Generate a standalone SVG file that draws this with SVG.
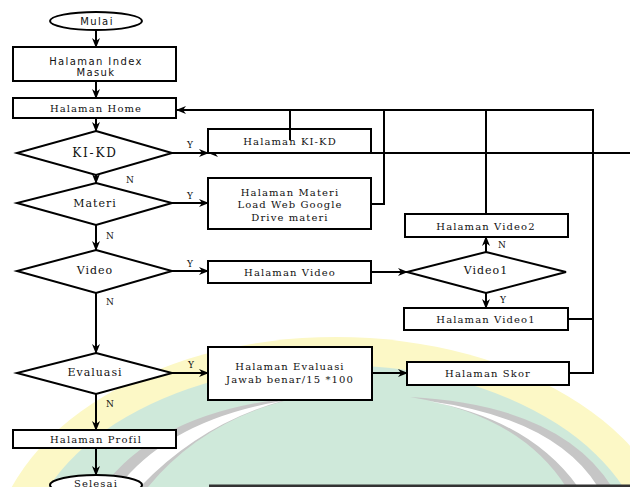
<svg xmlns="http://www.w3.org/2000/svg" width="630" height="487" viewBox="0 0 630 487">
<style>
.box{fill:#fff;stroke:#000;stroke-width:2}
.t{font-family:"DejaVu Serif",serif;font-size:10px;letter-spacing:1.1px;text-anchor:middle;dominant-baseline:central;fill:#111}
.d{font-family:"DejaVu Serif",serif;font-size:11px;letter-spacing:1px;text-anchor:middle;dominant-baseline:central;fill:#111}
.s{font-family:"DejaVu Sans",sans-serif;font-size:10px;letter-spacing:1.4px;text-anchor:middle;dominant-baseline:central;fill:#111}
.l{font-family:"DejaVu Serif",serif;font-size:9px;text-anchor:middle;dominant-baseline:central;fill:#111}
.c{fill:none;stroke:#000;stroke-width:2}
.a{fill:none;stroke:#000;stroke-width:2;marker-end:url(#ah)}
</style>
<defs>
<marker id="ah" markerWidth="10" markerHeight="10" refX="9" refY="5" orient="auto" markerUnits="userSpaceOnUse">
<path d="M0,1 L10,5 L0,9 L3,5 Z" fill="#000"/>
</marker>
</defs>
<rect width="630" height="487" fill="#fff"/>
<g id="watermark">
<ellipse cx="336" cy="565" rx="345" ry="228" fill="#fcf8c6"/>
<ellipse cx="336" cy="565" rx="312" ry="200" fill="#cfe9da"/>
<path d="M103 487 Q160 410 300 397 Q205 418 148 487 Z" fill="#c6c6c6"/>
<path d="M118 487 Q170 420 282 401 Q200 424 140 487 Z" fill="#fff"/>
<path d="M410 397 Q560 405 612 487 L566 487 Q520 415 410 397 Z" fill="#c6c6c6"/>
<path d="M428 401 Q555 418 598 487 L578 487 Q530 420 428 401 Z" fill="#fff"/>
<line x1="209" y1="486" x2="630" y2="486" stroke="#333" stroke-width="3"/>
</g>
<g id="connectors">
<line class="a" x1="96" y1="30" x2="96" y2="47"/>
<line class="a" x1="96" y1="81" x2="96" y2="98"/>
<line class="a" x1="96" y1="118" x2="96" y2="131"/>
<line class="a" x1="96" y1="175" x2="96" y2="183"/>
<line class="a" x1="96" y1="225" x2="96" y2="250"/>
<line class="a" x1="96" y1="293" x2="96" y2="353"/>
<line class="a" x1="96" y1="394" x2="96" y2="430"/>
<line class="a" x1="96" y1="448" x2="96" y2="475"/>
<line class="a" x1="172" y1="153" x2="208" y2="153"/>
<line class="a" x1="630" y1="153" x2="209" y2="153"/>
<line class="a" x1="172" y1="203" x2="208" y2="203"/>
<line class="a" x1="172" y1="271" x2="208" y2="271"/>
<line class="a" x1="172" y1="373" x2="208" y2="373"/>
<line class="a" x1="371" y1="272" x2="407" y2="272"/>
<line class="a" x1="486" y1="252" x2="486" y2="237"/>
<line class="a" x1="486" y1="293" x2="486" y2="308"/>
<line class="a" x1="372" y1="373" x2="407" y2="373"/>
<line class="a" x1="593" y1="110" x2="177" y2="110"/>
<polyline class="c" points="371,204 384,204 384,110"/>
<line class="c" x1="486" y1="110" x2="486" y2="214"/>
<polyline class="c" points="569,373 593,373 593,109"/>
<line class="c" x1="568" y1="319" x2="593" y2="319"/>
<text class="l" x="130" y="180">N</text>
<text class="l" x="110" y="236">N</text>
<text class="l" x="110" y="302">N</text>
<text class="l" x="110" y="404">N</text>
<text class="l" x="190" y="145">Y</text>
<text class="l" x="190" y="196">Y</text>
<text class="l" x="190" y="264">Y</text>
<text class="l" x="191" y="365">Y</text>
<text class="l" x="502" y="245">N</text>
<text class="l" x="503" y="300">Y</text>
</g>
<g id="mulai">
<ellipse class="box" cx="96" cy="21" rx="46" ry="9"/>
<text class="s" x="97" y="21">Mulai</text>
</g>
<g id="index">
<rect class="box" x="13" y="47" width="163" height="34"/>
<text class="s" x="96" y="61">Halaman Index</text>
<text class="s" x="96" y="72">Masuk</text>
</g>
<g id="home">
<rect class="box" x="13" y="98" width="163" height="20"/>
<text class="t" x="96" y="108">Halaman Home</text>
</g>
<g id="kikd">
<polygon class="box" points="96,131 172,153 96,175 17,153"/>
<text class="d" x="95" y="153" style="font-size:12px;letter-spacing:1.8px">KI-KD</text>
</g>
<g id="hal-kikd">
<rect class="box" x="208" y="129" width="163" height="24"/>
<text class="t" x="290" y="141">Halaman KI-KD</text>
<line class="c" x1="290" y1="110" x2="290" y2="140"/>
</g>
<g id="materi">
<polygon class="box" points="96,183 172,203 96,225 17,203"/>
<text class="d" x="95" y="203">Materi</text>
</g>
<g id="hal-materi">
<rect class="box" x="208" y="178" width="163" height="51"/>
<text class="t" x="290" y="192">Halaman Materi</text>
<text class="t" x="290" y="204">Load Web Google</text>
<text class="t" x="290" y="217">Drive materi</text>
</g>
<g id="video">
<polygon class="box" points="96,250 172,271 96,293 17,271"/>
<text class="d" x="95" y="270">Video</text>
</g>
<g id="hal-video">
<rect class="box" x="208" y="261" width="163" height="22"/>
<text class="t" x="290" y="272">Halaman Video</text>
</g>
<g id="video1">
<polygon class="box" points="486,252 566,272 486,293 407,272"/>
<text class="d" x="486" y="270">Video1</text>
</g>
<g id="hal-video2">
<rect class="box" x="405" y="214" width="163" height="23"/>
<text class="t" x="486" y="226">Halaman Video2</text>
</g>
<g id="hal-video1">
<rect class="box" x="404" y="308" width="164" height="22"/>
<text class="t" x="486" y="319">Halaman Video1</text>
</g>
<g id="evaluasi">
<polygon class="box" points="96,353 172,373 96,394 17,373"/>
<text class="d" x="95" y="372">Evaluasi</text>
</g>
<g id="hal-evaluasi">
<rect class="box" x="208" y="347" width="164" height="53"/>
<text class="t" x="290" y="366">Halaman Evaluasi</text>
<text class="t" x="290" y="379">Jawab benar/15 *100</text>
</g>
<g id="hal-skor">
<rect class="box" x="407" y="362" width="162" height="23"/>
<text class="t" x="488" y="373">Halaman Skor</text>
</g>
<g id="profil">
<rect class="box" x="13" y="430" width="163" height="18"/>
<text class="t" x="96" y="439">Halaman Profil</text>
</g>
<g id="selesai">
<ellipse class="box" cx="96" cy="485" rx="46" ry="10"/>
<text class="t" x="96" y="483">Selesai</text>
</g>
</svg>
